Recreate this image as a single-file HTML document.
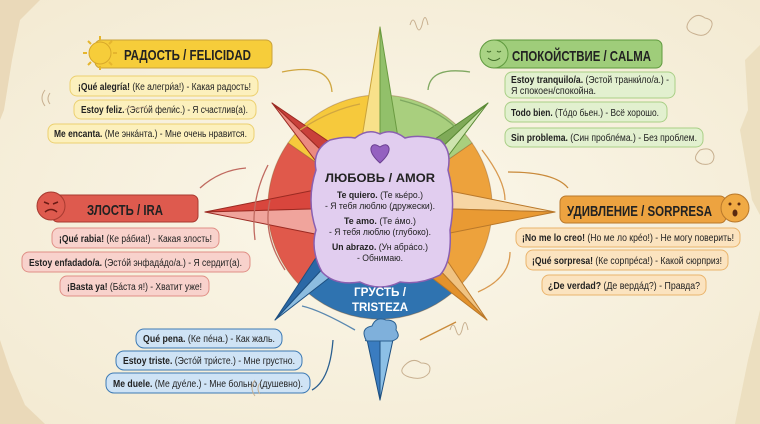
<!DOCTYPE html>
<html><head><meta charset="utf-8"><style>
html,body{margin:0;padding:0;width:760px;height:424px;overflow:hidden;background:#f7f1df}
svg{display:block}
text{font-family:"Liberation Sans","DejaVu Sans",sans-serif}
.h{font-weight:bold;font-size:15px;fill:#222}
.p{font-size:10px;fill:#222}
.b{font-weight:bold}
</style></head><body>
<svg width="760" height="424" viewBox="0 0 760 424" xmlns="http://www.w3.org/2000/svg">
<defs>
<radialGradient id="bg" cx="50%" cy="50%" r="70%"><stop offset="0" stop-color="#fbf7ea"/><stop offset="1" stop-color="#f3ead2"/></radialGradient>
</defs>
<rect width="760" height="424" fill="url(#bg)"/>
<path d="M0 0 L40 0 L20 20 L12 60 L4 110 L0 120Z" fill="#ead9b9"/>
<path d="M0 340 L10 370 L25 405 L45 424 L0 424Z" fill="#ead9b9"/>
<path d="M760 45 L745 60 L748 110 L740 130 L752 200 L760 215Z" fill="#ecdfc0"/>
<path d="M760 310 L748 360 L735 424 L760 424Z" fill="#ecdfc0"/>

<!-- compass circle segments -->
<g stroke="#8a5a2a" stroke-width="1" stroke-opacity=".4">
<path d="M380 207 L380 95 A112 112 0 0 0 288 143 Z" fill="#f6c93c"/>
<path d="M380 207 L288 143 A112 112 0 0 0 308 293 Z" fill="#e0594b"/>
<path d="M380 207 L308 293 A112 112 0 0 0 452 293 Z" fill="#2f73b0"/>
<path d="M380 207 L452 293 A112 112 0 0 0 472 143 Z" fill="#eda23c"/>
<path d="M380 207 L472 143 A112 112 0 0 0 380 95 Z" fill="#a9cf7e"/>
</g>
<!-- star spikes -->
<g stroke-width="1" stroke-linejoin="round">
<polygon points="380,27 360,150 380,207" fill="#f8e18a" stroke="#c9a23a"/>
<polygon points="380,27 400,150 380,207" fill="#92c06a" stroke="#6a9a40"/>
<polygon points="272,103 347,154 380,207" fill="#c9403a" stroke="#9a2a22"/>
<polygon points="272,103 327,176 380,207" fill="#eb8a80" stroke="#9a2a22"/>
<polygon points="488,103 413,154 380,207" fill="#7faa58" stroke="#5a8a35"/>
<polygon points="488,103 433,176 380,207" fill="#cde4ae" stroke="#5a8a35"/>
<polygon points="205,212 315,190 380,207" fill="#d9463d" stroke="#9a2a22"/>
<polygon points="205,212 315,234 380,207" fill="#f0a49c" stroke="#9a2a22"/>
<polygon points="555,212 445,190 380,207" fill="#f7d6a4" stroke="#b9782a"/>
<polygon points="555,212 445,234 380,207" fill="#e99a33" stroke="#b9782a"/>
<polygon points="275,320 325,244 380,207" fill="#2a68a6" stroke="#1d4f80"/>
<polygon points="275,320 347,264 380,207" fill="#8dbde0" stroke="#1d4f80"/>
<polygon points="487,320 436,244 380,207" fill="#f0c382" stroke="#b9782a"/>
<polygon points="487,320 414,264 380,207" fill="#e3922c" stroke="#b9782a"/>
<polygon points="380,400 366,335 380,335" fill="#3a7cc0" stroke="#1d4f80"/>
<polygon points="380,400 380,335 394,335" fill="#8cc0e6" stroke="#1d4f80"/>
</g>
<!-- cloud -->
<path d="M366 340 Q360 328 372 326 Q376 316 386 320 Q398 320 396 330 Q402 338 392 341 L370 341 Q364 341 366 340Z" fill="#7fb0db" stroke="#2a5f90"/>
<!-- purple box -->
<path d="M330 140 Q345 136 355 138 Q368 128 380 134 Q392 128 405 138 Q420 134 440 140 Q452 150 448 170 Q456 200 450 230 Q452 262 440 275 Q420 285 400 282 Q380 292 360 282 Q335 286 322 272 Q310 250 316 230 Q306 200 316 170 Q312 150 330 140Z" fill="#e1cdef" stroke="#8a5fb0" stroke-width="1.5"/>
<path d="M380 163 Q370 154 371 148 Q373 142 380 147 Q387 142 389 148 Q390 154 380 163Z" fill="#9461c0" stroke="#6a3f90"/>
<text x="380" y="182" text-anchor="middle" class="h" style="font-size:12px" textLength="110" lengthAdjust="spacingAndGlyphs">ЛЮБОВЬ / AMOR</text>
<g class="p" text-anchor="middle" style="font-size:9.5px">
<text x="380" y="198" textLength="86" lengthAdjust="spacingAndGlyphs"><tspan class="b">Te quiero.</tspan> (Те кьéро.)</text>
<text x="380" y="209" textLength="110" lengthAdjust="spacingAndGlyphs">- Я тебя люблю (дружески).</text>
<text x="380" y="224" textLength="72" lengthAdjust="spacingAndGlyphs"><tspan class="b">Te amo.</tspan> (Те áмо.)</text>
<text x="380" y="235" textLength="102" lengthAdjust="spacingAndGlyphs">- Я тебя люблю (глубоко).</text>
<text x="380" y="250" textLength="96" lengthAdjust="spacingAndGlyphs"><tspan class="b">Un abrazo.</tspan> (Ун абрáсо.)</text>
<text x="380" y="261" textLength="46" lengthAdjust="spacingAndGlyphs">- Обнимаю.</text>
</g>
<text x="380" y="296" text-anchor="middle" style="font-weight:bold;font-size:12px;fill:#fff" textLength="52" lengthAdjust="spacingAndGlyphs">ГРУСТЬ /</text>
<text x="380" y="311" text-anchor="middle" style="font-weight:bold;font-size:12px;fill:#fff" textLength="56" lengthAdjust="spacingAndGlyphs">TRISTEZA</text>

<!-- arrows -->
<g fill="none" stroke-width="1.3">
<path d="M332 92 Q330 62 282 72" stroke="#d0a640"/>
<path d="M300 130 Q330 110 360 104" stroke="#d0a640"/>
<path d="M428 90 Q430 66 470 72" stroke="#7fa860"/>
<path d="M400 100 Q440 110 458 130" stroke="#7fa860"/>
<path d="M482 150 Q505 180 505 200" stroke="#d99a50"/>
<path d="M510 252 Q510 278 478 292" stroke="#d99a50"/>
<path d="M508 172 Q555 172 568 188" stroke="#c98a3a"/>
<path d="M255 240 Q250 200 268 165" stroke="#c06a60"/>
<path d="M285 270 Q262 235 270 200" stroke="#c06a60"/>
<path d="M246 168 Q220 170 200 188" stroke="#c06a60"/>
<path d="M355 330 Q320 310 302 306" stroke="#5a88b0"/>
<path d="M420 340 Q440 330 456 322" stroke="#c98a3a"/>
<path d="M333 340 Q330 380 312 390" stroke="#2a5f90"/>
</g>

<!-- YELLOW header -->
<rect x="95" y="40" width="177" height="28" rx="6" fill="#f6cd3a" stroke="#c9a23a"/>
<circle cx="100" cy="53" r="11" fill="#f6cd3a" stroke="#d8a82a"/>
<g stroke="#e5b52e" stroke-width="2"><line x1="100" y1="36" x2="100" y2="40"/><line x1="100" y1="66" x2="100" y2="70"/><line x1="83" y1="53" x2="87" y2="53"/><line x1="113" y1="53" x2="117" y2="53"/><line x1="88" y1="41" x2="91" y2="44"/><line x1="109" y1="62" x2="112" y2="65"/><line x1="88" y1="65" x2="91" y2="62"/><line x1="109" y1="44" x2="112" y2="41"/></g>
<text x="124" y="60" class="h" textLength="127" lengthAdjust="spacingAndGlyphs">РАДОСТЬ / FELICIDAD</text>
<g class="p">
<rect x="70" y="76" width="188" height="20" rx="7" fill="#fcf0bd" stroke="#ecd070"/>
<text x="78" y="90" textLength="173" lengthAdjust="spacingAndGlyphs"><tspan class="b">¡Qué alegría!</tspan> (Ке алегри́а!) - Какая радость!</text>
<rect x="74" y="100" width="182" height="19" rx="7" fill="#fcf0bd" stroke="#ecd070"/>
<text x="81" y="113" textLength="167" lengthAdjust="spacingAndGlyphs"><tspan class="b">Estoy feliz.</tspan> (Эстóй фели́с.) - Я счастлив(а).</text>
<rect x="48" y="124" width="206" height="19" rx="7" fill="#fcf0bd" stroke="#ecd070"/>
<text x="54" y="137" textLength="193" lengthAdjust="spacingAndGlyphs"><tspan class="b">Me encanta.</tspan> (Ме энкáнта.) - Мне очень нравится.</text>
</g>

<!-- RED header -->
<rect x="52" y="195" width="146" height="27" rx="6" fill="#de5a4e" stroke="#a83a30"/>
<circle cx="51" cy="206" r="14" fill="#de5a4e" stroke="#a83a30"/>
<path d="M44 202 L49 204 M58 202 L53 204 M45 212 Q51 207 57 212" stroke="#6a1a14" stroke-width="1.5" fill="none"/>
<text x="87" y="215" class="h" textLength="76" lengthAdjust="spacingAndGlyphs">ЗЛОСТЬ / IRA</text>
<g class="p">
<rect x="52" y="228" width="167" height="20" rx="7" fill="#f8d2cc" stroke="#e08f86"/>
<text x="59" y="242" textLength="153" lengthAdjust="spacingAndGlyphs"><tspan class="b">¡Qué rabia!</tspan> (Ке рáбиа!) - Какая злость!</text>
<rect x="22" y="252" width="228" height="20" rx="7" fill="#f8d2cc" stroke="#e08f86"/>
<text x="29" y="266" textLength="213" lengthAdjust="spacingAndGlyphs"><tspan class="b">Estoy enfadado/a.</tspan> (Эстóй энфадáдо/а.) - Я сердит(а).</text>
<rect x="60" y="276" width="149" height="20" rx="7" fill="#f8d2cc" stroke="#e08f86"/>
<text x="67" y="290" textLength="135" lengthAdjust="spacingAndGlyphs"><tspan class="b">¡Basta ya!</tspan> (Бáста я!) - Хватит уже!</text>
</g>

<!-- GREEN header -->
<rect x="490" y="40" width="172" height="28" rx="6" fill="#9fcd7a" stroke="#5f9a3e"/>
<circle cx="494" cy="54" r="14" fill="#a9d384" stroke="#5f9a3e"/>
<path d="M487 51 q2 2 4 0 M497 51 q2 2 4 0 M488 58 q6 5 12 0" stroke="#3e6a28" fill="none"/>
<text x="512" y="61" class="h" textLength="139" lengthAdjust="spacingAndGlyphs">СПОКОЙСТВИЕ / CALMA</text>
<g class="p">
<rect x="505" y="72" width="170" height="26" rx="7" fill="#e2f0cf" stroke="#a9cf86"/>
<text x="511" y="83" textLength="158" lengthAdjust="spacingAndGlyphs"><tspan class="b">Estoy tranquilo/a.</tspan> (Эстой транки́ло/а.) -</text>
<text x="511" y="94" textLength="85" lengthAdjust="spacingAndGlyphs">Я спокоен/спокойна.</text>
<rect x="505" y="102" width="162" height="20" rx="7" fill="#e2f0cf" stroke="#a9cf86"/>
<text x="511" y="116" textLength="148" lengthAdjust="spacingAndGlyphs"><tspan class="b">Todo bien.</tspan> (Тóдо бьен.) - Всё хорошо.</text>
<rect x="505" y="128" width="198" height="19" rx="7" fill="#e2f0cf" stroke="#a9cf86"/>
<text x="511" y="141" textLength="186" lengthAdjust="spacingAndGlyphs"><tspan class="b">Sin problema.</tspan> (Син проблéма.) - Без проблем.</text>
</g>

<!-- ORANGE header -->
<rect x="560" y="196" width="166" height="27" rx="6" fill="#eda340" stroke="#b9782a"/>
<circle cx="735" cy="208" r="14" fill="#f0aa44" stroke="#b9782a"/>
<circle cx="730" cy="204" r="1.5" fill="#5a2a10"/><circle cx="739" cy="204" r="1.5" fill="#5a2a10"/>
<ellipse cx="735" cy="213" rx="2.5" ry="3.5" fill="#5a2a10"/>
<text x="567" y="216" class="h" textLength="145" lengthAdjust="spacingAndGlyphs">УДИВЛЕНИЕ / SORPRESA</text>
<g class="p">
<rect x="516" y="228" width="224" height="19" rx="7" fill="#fbe3bf" stroke="#eab46c"/>
<text x="522" y="241" textLength="212" lengthAdjust="spacingAndGlyphs"><tspan class="b">¡No me lo creo!</tspan> (Но ме ло крéо!) - Не могу поверить!</text>
<rect x="526" y="250" width="202" height="20" rx="7" fill="#fbe3bf" stroke="#eab46c"/>
<text x="532" y="264" textLength="190" lengthAdjust="spacingAndGlyphs"><tspan class="b">¡Qué sorpresa!</tspan> (Ке сорпрéса!) - Какой сюрприз!</text>
<rect x="542" y="275" width="164" height="20" rx="7" fill="#fbe3bf" stroke="#eab46c"/>
<text x="548" y="289" textLength="152" lengthAdjust="spacingAndGlyphs"><tspan class="b">¿De verdad?</tspan> (Де вердáд?) - Правда?</text>
</g>

<!-- BLUE pills -->
<g class="p">
<rect x="136" y="329" width="146" height="19" rx="8" fill="#cfe3f5" stroke="#3d7ab4"/>
<text x="143" y="342" textLength="132" lengthAdjust="spacingAndGlyphs"><tspan class="b">Qué pena.</tspan> (Ке пéна.) - Как жаль.</text>
<rect x="116" y="351" width="186" height="19" rx="8" fill="#cfe3f5" stroke="#3d7ab4"/>
<text x="123" y="364" textLength="172" lengthAdjust="spacingAndGlyphs"><tspan class="b">Estoy triste.</tspan> (Эстóй три́сте.) - Мне грустно.</text>
<rect x="106" y="373" width="204" height="20" rx="8" fill="#cfe3f5" stroke="#3d7ab4"/>
<text x="113" y="387" textLength="190" lengthAdjust="spacingAndGlyphs"><tspan class="b">Me duele.</tspan> (Ме дуéле.) - Мне больно (душевно).</text>
</g>

<!-- doodles -->
<g fill="none" stroke="#c8b090" stroke-width="1">
<path d="M410 25 q3 -10 6 0 q3 10 6 0 q3 -15 6 0"/>
<path d="M450 330 q3 -10 6 0 q3 10 6 0 q3 -15 6 0"/>
<path d="M690 20 q-8 10 5 14 q10 4 15 -4 q6 -10 -5 -12 q-8 -6 -15 2z"/>
<path d="M700 150 q-10 10 2 14 q12 2 12 -8 q-2 -10 -14 -6z"/>
<path d="M405 365 q-8 8 4 12 q14 4 20 -4 q4 -10 -8 -10 q-8 -6 -16 2z"/>
<path d="M45 90 q-6 8 0 16 M50 93 q-4 6 0 11"/>
<path d="M255 380 q-6 8 0 16 M260 383 q-4 6 0 11"/>
<path d="M125 110 q6 -6 12 0 q6 -6 12 0"/>
</g>
</svg>
</body></html>
